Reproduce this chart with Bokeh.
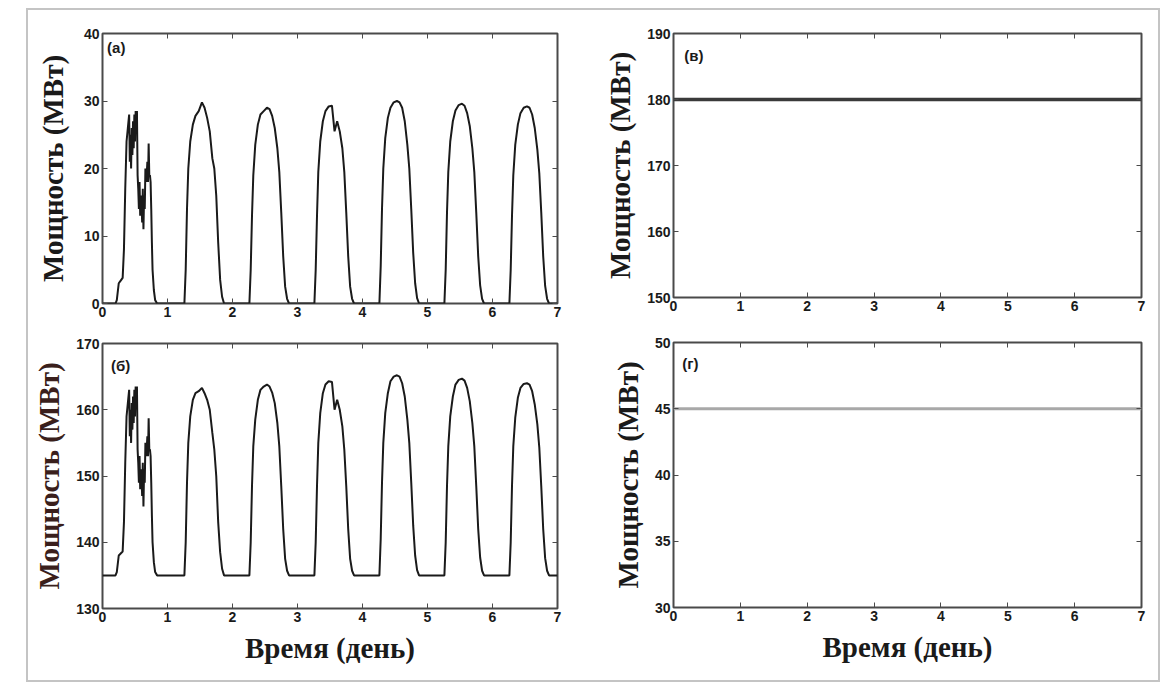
from bokeh.plotting import figure
from bokeh.layouts import row, column
from bokeh.models import Range1d, LinearAxis, FixedTicker, Label, CustomLabelingPolicy
from bokeh.embed import file_html
from bokeh.resources import INLINE

# ---------------- data ----------------
x_ticks = [0, 1, 2, 3, 4, 5, 6, 7]

time_days = [
    0.00, 0.20,
    0.22, 0.25, 0.28, 0.31, 0.33, 0.35, 0.37, 0.39, 0.41, 0.42, 0.43, 0.44, 0.45, 0.46,
    0.47, 0.48, 0.49, 0.50, 0.51, 0.52, 0.53, 0.54, 0.55, 0.56, 0.57, 0.58, 0.59, 0.60,
    0.61, 0.62, 0.63, 0.64, 0.65, 0.66, 0.67, 0.68, 0.69, 0.70, 0.71, 0.72, 0.73, 0.74,
    0.75, 0.76, 0.77, 0.79, 0.81, 0.84,
    1.26, 1.28, 1.30, 1.32, 1.35, 1.39, 1.43, 1.48, 1.53, 1.57, 1.61, 1.65, 1.69, 1.72, 1.75, 1.78, 1.81, 1.84, 1.87,
    2.26, 2.28, 2.30, 2.32, 2.35, 2.39, 2.43, 2.48, 2.53, 2.57, 2.61, 2.65, 2.69, 2.72, 2.75, 2.78, 2.81, 2.84, 2.87,
    3.26, 3.28, 3.30, 3.32, 3.35, 3.39, 3.43, 3.48, 3.53, 3.57, 3.61, 3.65, 3.69, 3.72, 3.75, 3.78, 3.81, 3.84, 3.87,
    4.26, 4.28, 4.30, 4.32, 4.35, 4.39, 4.43, 4.48, 4.53, 4.57, 4.61, 4.65, 4.69, 4.72, 4.75, 4.78, 4.81, 4.84, 4.87,
    5.26, 5.28, 5.30, 5.32, 5.35, 5.39, 5.43, 5.48, 5.53, 5.57, 5.61, 5.65, 5.69, 5.72, 5.75, 5.78, 5.81, 5.84, 5.87,
    6.26, 6.28, 6.30, 6.32, 6.35, 6.39, 6.43, 6.48, 6.53, 6.57, 6.61, 6.65, 6.69, 6.72, 6.75, 6.78, 6.81, 6.84, 6.87,
    7.00,
]

# panel (а): power, MW
power_a = [
    0, 0,
    0.5, 3, 3.4, 3.8, 8, 17, 24, 26, 28, 21, 25, 20, 26, 22,
    27, 23, 28, 24, 28.5, 26, 28.5, 19, 17, 14, 18, 13, 16, 15,
    12, 17, 11, 16, 14, 20, 18, 19, 21, 18, 23.7, 19, 19, 18,
    14, 9, 5, 2, 0.5, 0,
    0, 5, 14, 20, 24, 26.5, 27.8, 28.5, 29.8, 29, 27.5, 25.5, 21.5, 20, 16, 9, 3.5, 1, 0,
    0, 5, 13, 19, 23.5, 26.5, 28, 28.5, 29, 28.8, 27.8, 26, 23, 19.5, 13.5, 7, 2.5, 0.7, 0,
    0, 5, 13, 19.5, 24, 27, 28.5, 29.2, 29.3, 25.5, 27, 25.5, 23, 19.5, 13.5, 7, 2.5, 0.7, 0,
    0, 5.5, 14, 20, 24.5, 27.5, 29, 29.8, 30, 29.8, 29, 27, 23.5, 20, 14, 7.5, 3, 0.8, 0,
    0, 5, 13.5, 19.5, 24, 27, 28.6, 29.4, 29.6, 29.3, 28.2, 26.3, 23, 19.5, 13.5, 7, 2.7, 0.7, 0,
    0, 5, 13, 19, 23.5, 26.5, 28.2, 29, 29.2, 29, 28, 26, 22.8, 19.3, 13.5, 7, 2.6, 0.7, 0,
    0,
]

# panel (б): power, MW
power_b = [
    135, 135,
    135.5, 138, 138.3, 138.6, 143, 152, 159, 161, 163, 156, 160, 155, 161, 157,
    162, 158, 163, 159, 163.5, 161, 163.5, 154, 152, 149, 153, 148, 151, 150,
    147, 152, 145.4, 151, 149, 155, 153, 154, 156, 153, 158.7, 154, 154, 153,
    149, 144, 140, 137, 135.5, 135,
    135, 140, 149, 155, 159, 161.5, 162.5, 162.8, 163.3, 162.5, 161.5, 160, 156.5, 154, 150, 143, 138.5, 136, 135,
    135, 140, 148.5, 154.5, 158.5, 161.5, 163, 163.5, 163.8, 163.5, 162.6, 161, 158, 154.5, 148.5, 142, 137.5, 135.7, 135,
    135, 140, 148.5, 155, 159.5, 162.5, 163.8, 164.3, 164.2, 160, 161.5, 160, 157.5, 154, 148.5, 142, 137.5, 135.7, 135,
    135, 140.5, 149, 155, 159.5, 162.5, 164.3, 165, 165.2, 165, 164, 162, 158.5, 155, 149, 142.5, 138, 135.8, 135,
    135, 140, 148.5, 154.5, 159, 162, 163.8, 164.5, 164.7, 164.4, 163.3, 161.3, 158, 154.5, 148.5, 142, 137.7, 135.7, 135,
    135, 140, 148.5, 154.5, 158.8, 161.8, 163.3, 163.9, 164, 163.8, 162.8, 160.8, 157.8, 154.3, 148.5, 142, 137.6, 135.7, 135,
    135,
]

# panels (в) and (г): constant power, MW
const_time = [0, 7]
power_v = [180, 180]
power_g = [45, 45]

ticks_a = [0, 10, 20, 30, 40]
ticks_b = [130, 140, 150, 160, 170]
ticks_v = [150, 160, 170, 180, 190]
ticks_g = [30, 35, 40, 45, 50]

Y_LABEL = "Мощность (МВт)"
X_LABEL = "Время (день)"

TICK_FONT = "Liberation Sans"
LABEL_FONT = "Liberation Serif"
FRAME = "#4a4a4a"


def no_labels():
    return CustomLabelingPolicy(code="return new Set()")


def mirror_axis(ticks):
    return LinearAxis(ticker=FixedTicker(ticks=ticks), axis_line_color=None,
                      major_tick_in=5, major_tick_out=0, minor_tick_line_color=None,
                      major_tick_line_color=FRAME, major_label_policy=no_labels(),
                      major_label_text_font_size="1px", major_label_standoff=0)


def make_panel(yr, yticks, width, height, mb, tag, tag_xy, show_xlabel, ylabel_color, ylabel_standoff):
    left, right, top, bottom = mb
    p = figure(width=width, height=height, x_range=Range1d(0, 7), y_range=Range1d(*yr),
               output_backend="svg", toolbar_location=None,
               min_border_left=left, min_border_right=right,
               min_border_top=top, min_border_bottom=bottom,
               background_fill_color="white", border_fill_color="white")
    p.grid.visible = False
    p.outline_line_color = FRAME
    p.outline_line_width = 2

    p.xaxis.ticker = FixedTicker(ticks=x_ticks)
    p.yaxis.ticker = FixedTicker(ticks=yticks)
    for ax in (p.xaxis[0], p.yaxis[0]):
        ax.axis_line_color = None
        ax.major_tick_in = 5
        ax.major_tick_out = 0
        ax.major_tick_line_color = FRAME
        ax.major_tick_line_width = 1
        ax.minor_tick_line_color = None
        ax.major_label_text_font = TICK_FONT
        ax.major_label_text_font_style = "bold"
        ax.major_label_text_font_size = "14px"
        ax.major_label_text_color = "#1a1a1a"
        ax.major_label_standoff = 3
        ax.axis_label_text_font = LABEL_FONT
        ax.axis_label_text_font_style = "bold"
        ax.axis_label_text_font_size = "29px"
    p.yaxis.axis_label = Y_LABEL
    p.yaxis.axis_label_text_color = ylabel_color
    p.yaxis.axis_label_standoff = ylabel_standoff
    if show_xlabel:
        p.xaxis.axis_label = X_LABEL
        p.xaxis.axis_label_text_color = "#1a1a1a"
        p.xaxis.axis_label_standoff = 7

    # mirrored tick marks on top and right (no labels)
    p.add_layout(mirror_axis(x_ticks), "above")
    p.add_layout(mirror_axis(yticks), "right")

    p.add_layout(Label(x=tag_xy[0], y=tag_xy[1], text=tag, text_font=TICK_FONT,
                       text_font_style="bold", text_font_size="15px",
                       text_color="#1a1a1a", text_align="left", text_baseline="middle"))
    return p


pa = make_panel((0, 40), ticks_a, 569, 320, (74, 40, 23, 27), "(а)", (0.07, 37.9), False, "#1a1a1a", 12)
pa.line(time_days, power_a, line_color="#1a1a1a", line_width=2)

pb = make_panel((130, 170), ticks_b, 569, 350, (72, 40, 13, 72), "(б)", (0.13, 166.7), True, "#3a1f1c", 8)
pb.line(time_days, power_b, line_color="#1a1a1a", line_width=2)

pv = make_panel((150, 190), ticks_v, 561, 320, (76, 17, 23, 33), "(в)", (0.16, 186.7), False, "#1a1a1a", 8)
pv.line(const_time, power_v, line_color="#3a3a3a", line_width=3.5)

pg = make_panel((30, 50), ticks_g, 561, 350, (76, 17, 12, 73), "(г)", (0.13, 48.4), True, "#1a1a1a", 8)
pg.line(const_time, power_g, line_color="#a8a8a8", line_width=3)

layout = column(
    row(column(pa, pb), column(pv, pg)),
    styles={"border": "2px solid #c4c4c4"},
    margin=(8, 0, 0, 26),
)

open("out.html", "w").write(file_html(layout, INLINE))
